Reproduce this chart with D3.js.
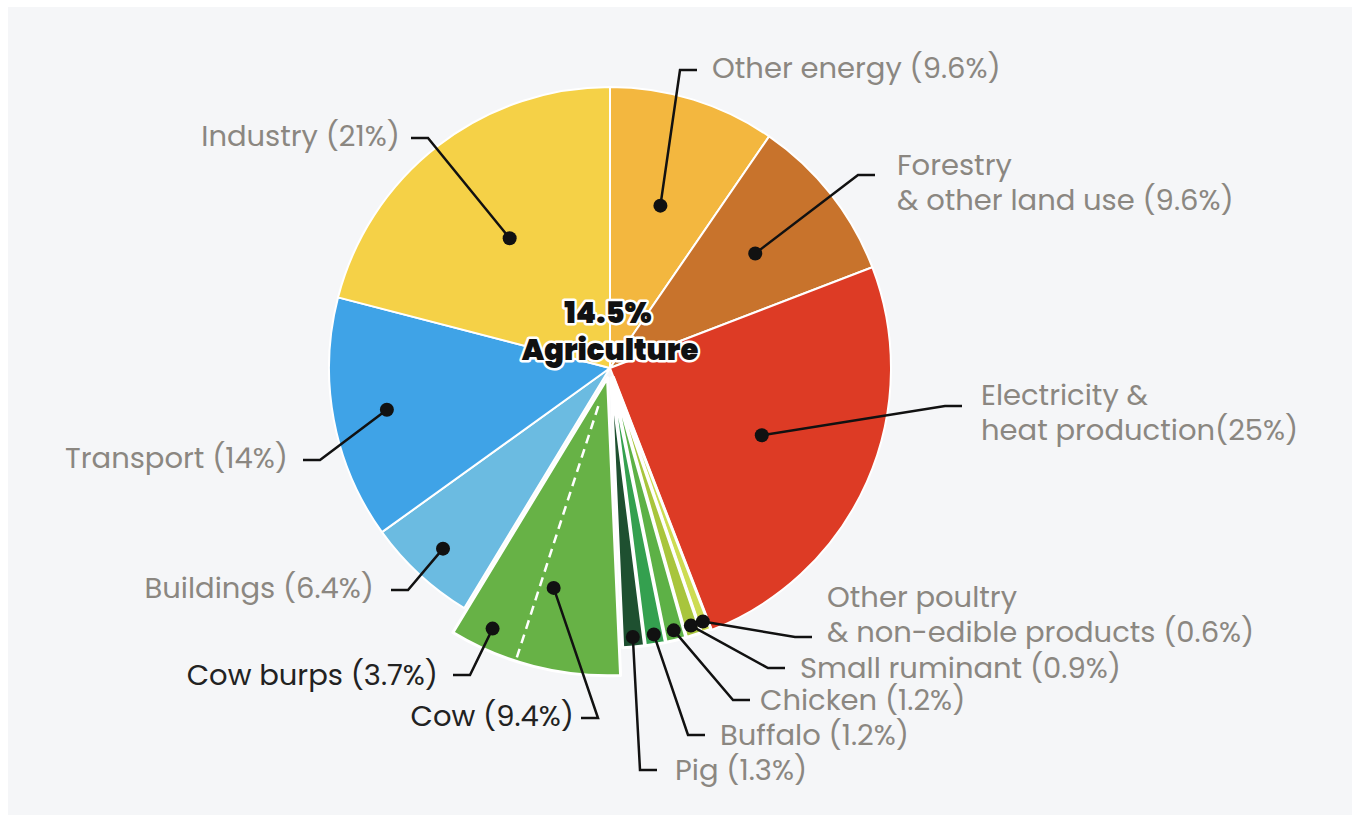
<!DOCTYPE html>
<html>
<head>
<meta charset="utf-8">
<script src="https://cdn.jsdelivr.net/npm/d3@7"></script>
<style>
  body { margin: 0; background: #fff; }
  svg text { font-family: Poppins, Inter, sans-serif; }
</style>
</head>
<body>
<svg id="chart" width="1352" height="815"></svg>
<script>
// data
const sectors = ["Other energy", "Forestry & other land use", "Electricity & heat production",
  "Other poultry & non-edible products", "Small ruminant", "Chicken", "Buffalo", "Pig", "Cow",
  "Buildings", "Transport", "Industry"];
const shares = [9.6, 9.6, 25, 0.6, 0.9, 1.2, 1.2, 1.3, 9.4, 6.4, 14, 21];
const agriSectors = ["Other poultry & non-edible products", "Small ruminant", "Chicken", "Buffalo", "Pig", "Cow"];
const cowBurps = 3.7;
const agriTotal = "14.5%";
const labelLines = [
  ["Other energy (9.6%)"],
  ["Forestry", "& other land use (9.6%)"],
  ["Electricity &", "heat production(25%)"],
  ["Other poultry", "& non-edible products (0.6%)"],
  ["Small ruminant (0.9%)"],
  ["Chicken (1.2%)"],
  ["Buffalo (1.2%)"],
  ["Pig (1.3%)"],
  ["Cow (9.4%)"],
  ["Buildings (6.4%)"],
  ["Transport (14%)"],
  ["Industry (21%)"]
];
const cowBurpsLabel = "Cow burps (3.7%)";

const colors = ["#f3b73f", "#c8732c", "#dd3b25", "#cddc52", "#a8c53c", "#5db146", "#34a04f", "#1e5030",
  "#67b246", "#6bbbe1", "#3fa3e7", "#f5d147"];

// label layout: dot radius, elbow (relative to centre), side, gap to text, y shift of first line
const labelLayout = [
  { dotR: 170, elbow: [70, -298], side: "right", gap: 15, dy: -2 },
  { dotR: 185, elbow: [248, -193], side: "right", gap: 22, dy: -10 },
  { dotR: 166, elbow: [335, 38], side: "right", gap: 19, dy: -11 },
  { dotR: 260, elbow: [185, 269], side: "right", gap: 15, dy: -40 },
  { dotR: 260, elbow: [158, 300], side: "right", gap: 15, dy: 0 },
  { dotR: 260, elbow: [123, 332], side: "right", gap: 10, dy: 0 },
  { dotR: 260, elbow: [78, 367], side: "right", gap: 15, dy: 0 },
  { dotR: 260, elbow: [30, 402], side: "right", gap: 18, dy: 0 },
  { dotR: 217, elbow: [-12, 350], side: "left", gap: 7, dy: -2 },
  { dotR: 246, elbow: [-202, 222], side: "left", gap: 17, dy: -2 },
  { dotR: 227, elbow: [-290, 92], side: "left", gap: 15, dy: -2 },
  { dotR: 164, elbow: [-182, -230], side: "left", gap: 11, dy: -2 }
];
const burpsLayout = { dotR: 276, elbow: [-140, 307], side: "left", gap: 15, dy: 0 };

const svg = d3.select("#chart");
const cx = 610, cy = 368;
const radius = 281, cowRadius = 298, livestockRadius = 270, explode = 10;

svg.append("rect")
  .attr("x", 8).attr("y", 7)
  .attr("width", 1344).attr("height", 808)
  .attr("fill", "#f5f6f8");

const data = sectors.map((s, i) => ({ name: s, share: shares[i], color: colors[i], lines: labelLines[i], lay: labelLayout[i] }));

const pie = d3.pie().sort(null).value(d => d.share);
const arcs = pie(data);

const g = svg.append("g").attr("transform", `translate(${cx},${cy})`);

const polar = (r, a) => [r * Math.sin(a), -r * Math.cos(a)];

function outerR(d) {
  if (d.data.name === "Cow") return cowRadius;
  if (agriSectors.includes(d.data.name)) return livestockRadius;
  return radius;
}
function offset(d) {
  if (!agriSectors.includes(d.data.name)) return [0, 0];
  return polar(explode, (d.startAngle + d.endAngle) / 2);
}

const arc = d3.arc().innerRadius(0).outerRadius(d => outerR(d));

const slices = g.selectAll(".slice")
  .data(arcs)
  .enter().append("g")
  .attr("class", "slice")
  .attr("transform", d => `translate(${offset(d)})`);

slices.append("path")
  .attr("d", arc)
  .attr("fill", d => d.data.color)
  .attr("stroke", "#fff")
  .attr("stroke-width", d => agriSectors.includes(d.data.name) ? 3 : 2)
  .attr("stroke-linejoin", "round");

// cow burps split line
const cowArc = arcs.find(d => d.data.name === "Cow");
const total = d3.sum(shares);
const burpsStart = cowArc.endAngle - cowBurps / total * 2 * Math.PI;
const cowOff = offset(cowArc);
const p0 = polar(30, burpsStart), p1 = polar(cowRadius - 2, burpsStart);
g.append("line")
  .attr("transform", `translate(${cowOff})`)
  .attr("x1", p0[0]).attr("y1", p0[1])
  .attr("x2", p1[0]).attr("y2", p1[1])
  .attr("stroke", "#fff")
  .attr("stroke-width", 2.5)
  .attr("stroke-dasharray", "9,6");

// leader lines, dots and labels
function drawLabel(off, angle, lay, lines, color) {
  const dot = polar(lay.dotR, angle);
  const dx = dot[0] + off[0], dy = dot[1] + off[1];
  const ex = lay.elbow[0], ey = lay.elbow[1];
  const dir = lay.side === "right" ? 1 : -1;
  const endX = ex + dir * 17;
  g.append("polyline")
    .attr("points", [[dx, dy], [ex, ey], [endX, ey]].map(p => p.join(",")).join(" "))
    .attr("fill", "none")
    .attr("stroke", "#111")
    .attr("stroke-width", 2.5);
  g.append("circle")
    .attr("cx", dx).attr("cy", dy)
    .attr("r", 7)
    .attr("fill", "#111");
  const tx = endX + dir * lay.gap;
  const t = g.append("text")
    .attr("x", tx)
    .attr("y", ey + lay.dy)
    .attr("text-anchor", lay.side === "right" ? "start" : "end")
    .attr("fill", color)
    .style("font-size", "29px");
  lines.forEach((line, i) => {
    t.append("tspan")
      .attr("x", tx)
      .attr("dy", i === 0 ? "0.35em" : 35)
      .text(line);
  });
}

arcs.forEach(d => {
  const name = d.data.name;
  const col = name === "Cow" ? "#222" : "#8b8781";
  const mid = (d.startAngle + d.endAngle) / 2;
  drawLabel(offset(d), mid, d.data.lay, d.data.lines, col);
});
drawLabel(cowOff, (burpsStart + cowArc.endAngle) / 2, burpsLayout, [cowBurpsLabel], "#222");

// centre label
const centre = g.append("text")
  .attr("text-anchor", "middle")
  .attr("fill", "#111")
  .attr("stroke", "#fff")
  .attr("stroke-width", 5)
  .attr("stroke-linejoin", "round")
  .style("paint-order", "stroke")
  .style("font-weight", 900)
  .style("font-size", "29px");
centre.append("tspan").attr("x", -2).attr("y", -55).attr("dy", "0.35em").text(agriTotal);
centre.append("tspan").attr("x", 0).attr("y", -18).attr("dy", "0.35em").text("Agriculture");
</script>
</body>
</html>
